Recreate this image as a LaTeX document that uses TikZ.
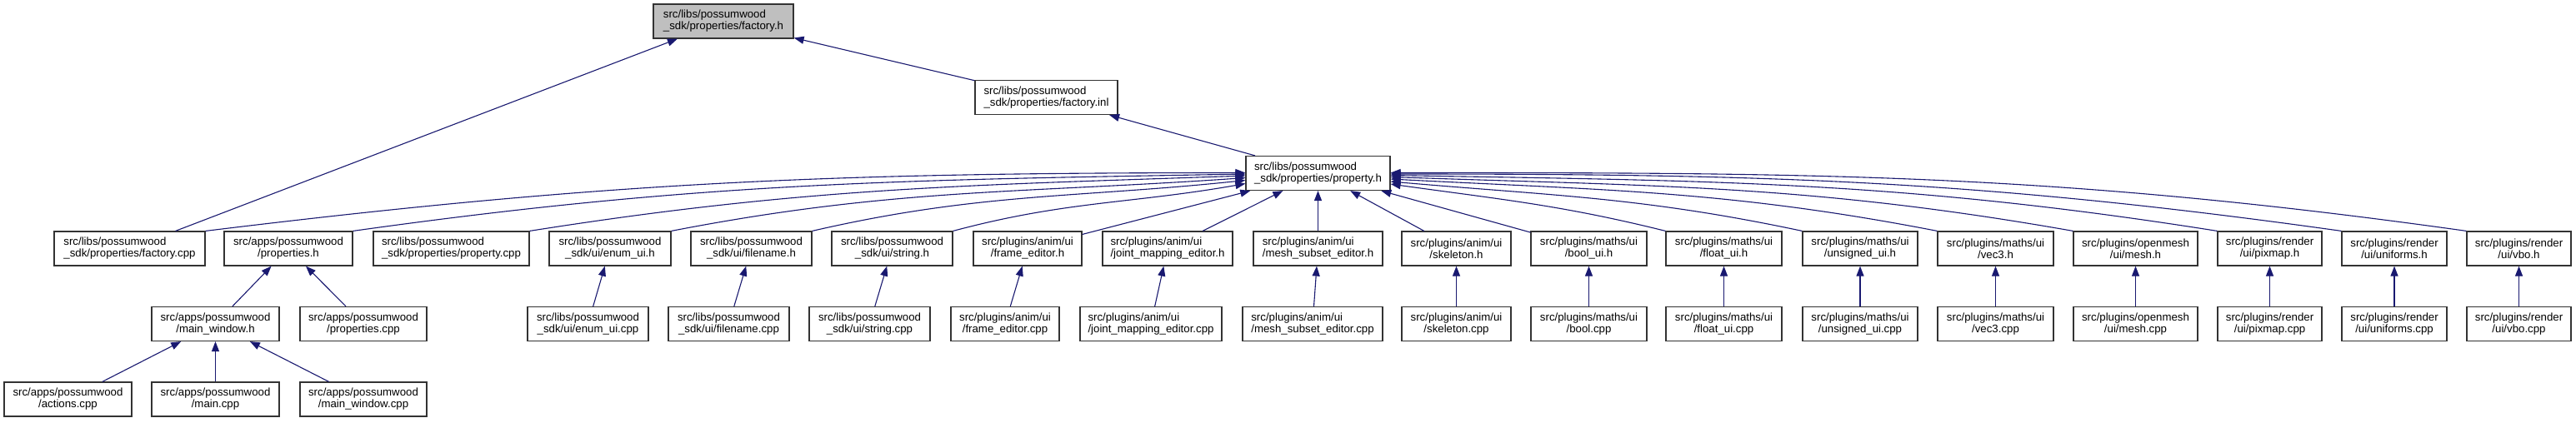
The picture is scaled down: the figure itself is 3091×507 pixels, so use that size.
\documentclass[tikz,border=0pt]{standalone}
\usepackage{fontspec}
\setmainfont{Liberation Sans}
\usetikzlibrary{arrows.meta}
\definecolor{edgecol}{HTML}{191970}
\definecolor{nodegray}{HTML}{BFBFBF}
\definecolor{nodeline}{HTML}{333333}
\newcommand\twol[2]{%
  \setbox0=\hbox{#1}\setbox2=\hbox{#2}%
  \dimen0=\wd0 \ifdim\wd2>\dimen0 \dimen0=\wd2\fi
  \vbox{\hbox to\dimen0{\box0\hfil}\hbox to\dimen0{\hfil\box2\hfil}}}
\newcommand\nd[7][]{\node[box,#1,minimum width={(#4-#3)*1pt}] (#2) at ({(#3+#4)/2},{-#5}) {\twol{#6}{#7}};}
\tikzset{
  box/.style={draw=nodeline, line width=1.2pt, fill=white, rectangle, inner sep=0pt,
    minimum height=41pt, font=\fontsize{13.25pt}{14pt}\selectfont},
  edge/.style={draw=edgecol, line width=1.1pt, -{Triangle[length=12pt,width=9pt]}}
}
\begin{document}
\begin{tikzpicture}[x=1pt,y=1pt]
\fill[white] (0,0) rectangle (3091,-507);
\useasboundingbox (0,0) rectangle (3091,-507);
% row 0-2
\nd[fill=nodegray]{fh}{784}{952}{25.5}{src/libs/possumwood}{\_sdk/properties/factory.h}
\nd{finl}{1170}{1341}{117}{src/libs/possumwood}{\_sdk/properties/factory.inl}
\nd{prop}{1495}{1668}{208}{src/libs/possumwood}{\_sdk/properties/property.h}
% row 3
\nd{fcpp}{65}{246}{298.5}{src/libs/possumwood}{\_sdk/properties/factory.cpp}
\nd{aph}{269}{423}{298.5}{src/apps/possumwood}{/properties.h}
\nd{pcpp}{448}{635}{298.5}{src/libs/possumwood}{\_sdk/properties/property.cpp}
\nd{enumh}{659}{805}{298.5}{src/libs/possumwood}{\_sdk/ui/enum\_ui.h}
\nd{fnh}{829}{974}{298.5}{src/libs/possumwood}{\_sdk/ui/filename.h}
\nd{strh}{998}{1143}{298.5}{src/libs/possumwood}{\_sdk/ui/string.h}
\nd{frh}{1168}{1298}{298.5}{src/plugins/anim/ui}{/frame\_editor.h}
\nd{jmh}{1323}{1479}{298.5}{src/plugins/anim/ui}{/joint\_mapping\_editor.h}
\nd{msh}{1504}{1659}{298.5}{src/plugins/anim/ui}{/mesh\_subset\_editor.h}
\nd{skh}{1682}{1813}{298.5}{src/plugins/anim/ui}{/skeleton.h}
\nd{boolh}{1837}{1976}{298.5}{src/plugins/maths/ui}{/bool\_ui.h}
\nd{floath}{1999}{2138}{298.5}{src/plugins/maths/ui}{/float\_ui.h}
\nd{unsh}{2163}{2301}{298.5}{src/plugins/maths/ui}{/unsigned\_ui.h}
\nd{vech}{2325}{2464}{298.5}{src/plugins/maths/ui}{/vec3.h}
\nd{meshh}{2488}{2637}{298.5}{src/plugins/openmesh}{/ui/mesh.h}
\nd{pixh}{2661}{2786}{298.5}{src/plugins/render}{/ui/pixmap.h}
\nd{unih}{2810}{2936}{298.5}{src/plugins/render}{/ui/uniforms.h}
\nd{vboh}{2960}{3085}{298.5}{src/plugins/render}{/ui/vbo.h}
% row 4
\nd{pmw}{182}{335}{389}{src/apps/possumwood}{/main\_window.h}
\nd{apcpp}{360}{512}{389}{src/apps/possumwood}{/properties.cpp}
\nd{enumc}{633}{778}{389}{src/libs/possumwood}{\_sdk/ui/enum\_ui.cpp}
\nd{fnc}{802}{947}{389}{src/libs/possumwood}{\_sdk/ui/filename.cpp}
\nd{strc}{971}{1116}{389}{src/libs/possumwood}{\_sdk/ui/string.cpp}
\nd{frc}{1141}{1271}{389}{src/plugins/anim/ui}{/frame\_editor.cpp}
\nd{jmc}{1296}{1466}{389}{src/plugins/anim/ui}{/joint\_mapping\_editor.cpp}
\nd{msc}{1491}{1659}{389}{src/plugins/anim/ui}{/mesh\_subset\_editor.cpp}
\nd{skc}{1682}{1813}{389}{src/plugins/anim/ui}{/skeleton.cpp}
\nd{boolc}{1837}{1976}{389}{src/plugins/maths/ui}{/bool.cpp}
\nd{floatc}{1999}{2138}{389}{src/plugins/maths/ui}{/float\_ui.cpp}
\nd{unsc}{2163}{2301}{389}{src/plugins/maths/ui}{/unsigned\_ui.cpp}
\nd{vecc}{2325}{2464}{389}{src/plugins/maths/ui}{/vec3.cpp}
\nd{meshc}{2488}{2637}{389}{src/plugins/openmesh}{/ui/mesh.cpp}
\nd{pixc}{2661}{2786}{389}{src/plugins/render}{/ui/pixmap.cpp}
\nd{unic}{2810}{2936}{389}{src/plugins/render}{/ui/uniforms.cpp}
\nd{vboc}{2960}{3085}{389}{src/plugins/render}{/ui/vbo.cpp}
% row 5
\nd{act}{5}{158}{479.5}{src/apps/possumwood}{/actions.cpp}
\nd{mcpp}{182}{335}{479.5}{src/apps/possumwood}{/main.cpp}
\nd{mwcpp}{360}{512}{479.5}{src/apps/possumwood}{/main\_window.cpp}
% edges top
\draw[edge] (fcpp) -- (fh);
\draw[edge] (finl) -- (fh);
\draw[edge] (prop) -- (finl);
% left curves into property.h
\draw[edge] (fcpp.north east) .. controls +(7:490) and +(180:490) .. ([yshift=0.5pt]prop.west);
\draw[edge] (aph.north east) .. controls +(8:420) and +(181:420) .. ([yshift=-1pt]prop.west);
\draw[edge] (pcpp.north east) .. controls +(9:335) and +(182:335) .. ([yshift=-3pt]prop.west);
\draw[edge] (enumh.north east) .. controls +(11:270) and +(184:270) .. ([yshift=-5.5pt]prop.west);
\draw[edge] (fnh.north east) .. controls +(13:205) and +(186:205) .. ([yshift=-8.5pt]prop.west);
\draw[edge] (strh.north east) .. controls +(15:140) and +(190:140) .. ([yshift=-12.5pt]prop.west);
% straight into property.h
\draw[edge] (frh) -- (prop);
\draw[edge] (jmh) -- (prop);
\draw[edge] (msh) -- (prop);
\draw[edge] (skh) -- (prop);
\draw[edge] (boolh) -- (prop);
% right curves into property.h
\draw[edge] (floath.north west) .. controls +(166:130) and +(-8:130) .. ([yshift=-13pt]prop.east);
\draw[edge] (unsh.north west) .. controls +(168:195) and +(-5:195) .. ([yshift=-10pt]prop.east);
\draw[edge] (vech.north west) .. controls +(169:255) and +(-3:255) .. ([yshift=-7pt]prop.east);
\draw[edge] (meshh.north west) .. controls +(170:320) and +(-2:320) .. ([yshift=-4.5pt]prop.east);
\draw[edge] (pixh.north west) .. controls +(171:385) and +(-1:385) .. ([yshift=-2.5pt]prop.east);
\draw[edge] (unih.north west) .. controls +(172:445) and +(0:445) .. ([yshift=-1pt]prop.east);
\draw[edge] (vboh.north west) .. controls +(172:505) and +(0:505) .. ([yshift=0.5pt]prop.east);
% lower edges
\draw[edge] (pmw) -- (aph);
\draw[edge] (apcpp) -- (aph);
\draw[edge] (act) -- (pmw);
\draw[edge] (mcpp) -- (pmw);
\draw[edge] (mwcpp) -- (pmw);
\draw[edge] (enumc) -- (enumh);
\draw[edge] (fnc) -- (fnh);
\draw[edge] (strc) -- (strh);
\draw[edge] (frc) -- (frh);
\draw[edge] (jmc) -- (jmh);
\draw[edge] (msc) -- (msh);
\draw[edge] (skc) -- (skh);
\draw[edge] (boolc) -- (boolh);
\draw[edge] (floatc) -- (floath);
\draw[edge] (unsc) -- (unsh);
\draw[edge] (vecc) -- (vech);
\draw[edge] (meshc) -- (meshh);
\draw[edge] (pixc) -- (pixh);
\draw[edge] (unic) -- (unih);
\draw[edge] (vboc) -- (vboh);
\end{tikzpicture}
\end{document}
